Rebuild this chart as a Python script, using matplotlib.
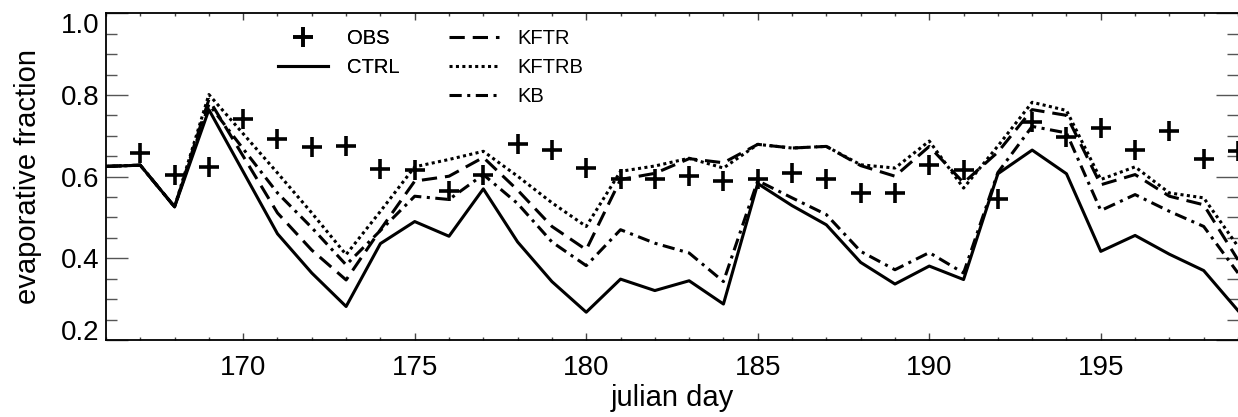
import numpy as np
import matplotlib
matplotlib.use('Agg')
import matplotlib.pyplot as plt
from matplotlib.ticker import MultipleLocator

plt.rcParams['font.family'] = ['Liberation Sans', 'DejaVu Sans']

# Data
days = np.arange(166, 200)
obs_days = np.arange(167, 200)
obs = [0.658, 0.605, 0.623, 0.740, 0.691, 0.673, 0.674, 0.619, 0.615, 0.566,
       0.603, 0.681, 0.666, 0.621, 0.593, 0.593, 0.602, 0.590, 0.595, 0.609,
       0.595, 0.561, 0.560, 0.629, 0.617, 0.546, 0.734, 0.696, 0.719, 0.665,
       0.711, 0.644, 0.662]
ctrl = [0.625, 0.628, 0.526, 0.764, 0.612, 0.460, 0.364, 0.282, 0.436, 0.490,
        0.454, 0.570, 0.440, 0.343, 0.268, 0.349, 0.321, 0.345, 0.288, 0.583,
        0.529, 0.482, 0.390, 0.337, 0.381, 0.348, 0.607, 0.665, 0.607, 0.417,
        0.456, 0.410, 0.370, 0.272]
kftr = [0.625, 0.628, 0.526, 0.789, 0.650, 0.511, 0.420, 0.347, 0.470, 0.589,
        0.601, 0.647, 0.567, 0.478, 0.421, 0.593, 0.608, 0.644, 0.634, 0.679,
        0.670, 0.674, 0.627, 0.601, 0.674, 0.585, 0.660, 0.764, 0.750, 0.580,
        0.605, 0.552, 0.531, 0.396]
kftrb = [0.625, 0.628, 0.526, 0.801, 0.705, 0.609, 0.511, 0.409, 0.515, 0.624,
         0.642, 0.662, 0.601, 0.536, 0.478, 0.613, 0.626, 0.645, 0.621, 0.679,
         0.670, 0.674, 0.629, 0.621, 0.687, 0.572, 0.675, 0.782, 0.762, 0.593,
         0.624, 0.560, 0.548, 0.429]
kb = [0.625, 0.628, 0.526, 0.777, 0.668, 0.560, 0.475, 0.384, 0.468, 0.552,
      0.544, 0.605, 0.534, 0.440, 0.382, 0.470, 0.437, 0.413, 0.343, 0.590,
      0.548, 0.507, 0.417, 0.372, 0.414, 0.364, 0.610, 0.723, 0.707, 0.517,
      0.556, 0.515, 0.478, 0.364]

fig = plt.figure(figsize=(12.38, 4.17), dpi=100)
ax = fig.add_axes([0.0856, 0.1847, 0.9144, 0.7835])

lw = 2.2
h_obs, = ax.plot(obs_days, obs, linestyle='none', marker='+', markersize=14,
                 markeredgewidth=2.6, color='black', label='OBS')
h_ctrl, = ax.plot(days, ctrl, color='black', lw=lw, label='CTRL')
h_kftr, = ax.plot(days, kftr, color='black', lw=lw, dashes=(5, 2.6), label='KFTR')
h_kftrb, = ax.plot(days, kftrb, color='black', lw=lw, dashes=(1, 1.1), label='KFTRB')
h_kb, = ax.plot(days, kb, color='black', lw=lw, dashes=(4, 1.8, 1, 1.8), label='KB')

ax.set_xlim(166, 199)
ax.set_ylim(0.2, 1.0)
ax.xaxis.set_major_locator(MultipleLocator(5))
ax.xaxis.set_minor_locator(MultipleLocator(1))
ax.yaxis.set_minor_locator(MultipleLocator(0.05))
ax.set_yticks([0.2, 0.4, 0.6, 0.8, 1.0])
ax.set_yticklabels(['0.2', '0.4', '0.6', '0.8', '1.0'])

ax.tick_params(axis='x', which='major', direction='in', length=5, width=1,
               top=True, labelsize=20, pad=11, color='#444444')
ax.tick_params(axis='x', which='minor', direction='in', length=2.5, width=1,
               top=True, color='#444444')
ax.tick_params(axis='y', which='major', direction='in', length=16, width=1,
               right=True, labelsize=20, pad=5, color='#555555')
ax.tick_params(axis='y', which='minor', direction='in', length=8, width=1,
               right=True, color='#555555')

labels = ax.get_yticklabels()
labels[0].set_verticalalignment('baseline')
labels[-1].set_verticalalignment('top')

for s in ax.spines.values():
    s.set_linewidth(1.3)
ax.spines['right'].set_visible(False)

ax.set_xlabel('julian day', fontsize=21, labelpad=2)
ax.set_ylabel('evaporative fraction', fontsize=21, labelpad=13)

leg1 = fig.legend(handles=[h_obs, h_ctrl], loc='upper left',
                  bbox_to_anchor=(0.2246, 0.93), frameon=False, fontsize=14.5,
                  handlelength=2.5, handletextpad=0.9, labelspacing=0.5,
                  borderpad=0, borderaxespad=0)
fig.legend(handles=[h_kftr, h_kftrb, h_kb], loc='upper left',
           bbox_to_anchor=(0.3627, 0.93), frameon=False, fontsize=14.5,
           handlelength=2.5, handletextpad=0.9, labelspacing=0.5,
           borderpad=0, borderaxespad=0)
fig.add_artist(leg1)

fig.savefig('out.png', dpi=100)
